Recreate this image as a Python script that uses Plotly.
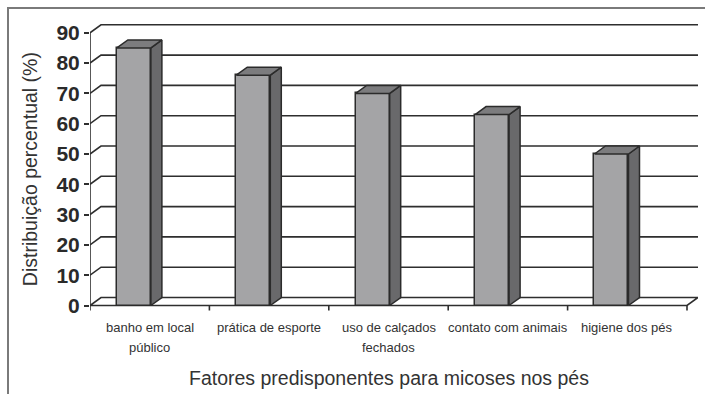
import plotly.graph_objects as go

# ---------------- data ----------------
categories = ["banho em local<br>público", "prática de esporte",
              "uso de calçados<br>fechados", "contato com animais", "higiene dos pés"]
values = [85, 76, 70, 63, 50]
y_ticks = [0, 10, 20, 30, 40, 50, 60, 70, 80, 90]
y_title = "Distribuição percentual (%)"
x_title = "Fatores predisponentes para micoses nos pés"

# ---------------- geometry (pixels) ----------------
W, H = 705, 394
X_LEFT = 90.0        # front y-axis position (px)
X_RIGHT = 698.0      # back-wall right end (px)
PX_CAT = 119.4       # px per category
Y_ZERO = 305.5       # y=0 at front (px)
PX_UNIT = 3.03       # px per percent
DX_PX, DY_PX = 11.0, 8.0   # oblique depth offset
MT, MB = 20, 74

n = len(categories)
x_min = -0.5
x_max = -0.5 + (X_RIGHT - X_LEFT) / PX_CAT
plot_h = H - MT - MB
y_min = -((H - MB) - Y_ZERO) / PX_UNIT
y_max = (Y_ZERO - MT) / PX_UNIT
ddx = DX_PX / PX_CAT
ddy = DY_PX / PX_UNIT
y_top = max(y_ticks)

FRONT = "#a4a4a6"
SIDE = "#69696b"
TOP = "#7c7c7e"
EDGE = "#2b2b2b"
GRID = "#2e2e2e"
TXT = "#333333"

fig = go.Figure()
shapes = []

# gridlines (front axis -> back wall -> right)
right_back = (n - 0.5) + ddx
for t in y_ticks[1:]:
    shapes.append(dict(type="path", layer="below",
                       path=f"M {x_min},{t} L {x_min + ddx},{t + ddy} L {right_back},{t + ddy}",
                       line=dict(color=GRID, width=1.6)))
# floor
shapes.append(dict(type="path", layer="below",
                   path=f"M {x_min},0 L {n - 0.5},0 L {right_back},{ddy} L {x_min + ddx},{ddy} Z",
                   fillcolor="white", line=dict(color=GRID, width=1.6)))
# front vertical axis
shapes.append(dict(type="line", layer="below", x0=x_min, x1=x_min, y0=0, y1=y_top,
                   line=dict(color=GRID, width=1.6)))
# category boundary ticks
tick_len = 5.0 / PX_UNIT
for i in range(n + 1):
    b = i - 0.5
    shapes.append(dict(type="line", layer="above", x0=b, x1=b, y0=0, y1=-tick_len,
                       line=dict(color=GRID, width=1.6)))

# outer border (top + left)
def px_to_paper_x(px):
    return (px - X_LEFT) / (X_RIGHT - X_LEFT)

def py_to_paper_y(py):
    return 1 - (py - MT) / plot_h

bx0, by0 = px_to_paper_x(8), py_to_paper_y(8)
bx1, by1 = px_to_paper_x(706), py_to_paper_y(396)
shapes.append(dict(type="path", xref="paper", yref="paper", layer="above",
                   path=f"M {bx1},{by0} L {bx0},{by0} L {bx0},{by1}",
                   line=dict(color="#7a7a7a", width=2)))

# bars: front faces
OFF, BW = -0.275, 0.285
xs = list(range(n))
fig.add_trace(go.Bar(x=xs, y=values, offset=OFF, width=BW,
                     marker=dict(color=FRONT, line=dict(color=EDGE, width=1.5)),
                     hoverinfo="skip", showlegend=False))
# side and top faces
for i, v in enumerate(values):
    x0 = i + OFF
    x1 = x0 + BW
    fig.add_trace(go.Scatter(
        x=[x1, x1, x1 + ddx, x1 + ddx, x1], y=[0, v, v + ddy, ddy, 0],
        mode="lines", fill="toself", fillcolor=SIDE,
        line=dict(color=EDGE, width=1.5), hoverinfo="skip", showlegend=False))
    fig.add_trace(go.Scatter(
        x=[x0, x1, x1 + ddx, x0 + ddx, x0], y=[v, v, v + ddy, v + ddy, v],
        mode="lines", fill="toself", fillcolor=TOP,
        line=dict(color=EDGE, width=1.5), hoverinfo="skip", showlegend=False))

annotations = []
LINE1, LINE_GAP = 327, 20
for i, c in enumerate(categories):
    for k, part in enumerate(c.split("<br>")):
        annotations.append(dict(x=i, y=0, xref="x", yref="y", text=part, showarrow=False,
                                yanchor="middle", yshift=-(LINE1 + k * LINE_GAP - Y_ZERO),
                                font=dict(family="Liberation Sans, Arial", size=13, color=TXT)))
annotations.append(dict(x=(n - 1) / 2, y=0, xref="x", yref="y", text=x_title, showarrow=False,
                        yanchor="middle", yshift=-(378 - Y_ZERO),
                        font=dict(family="Liberation Sans, Arial", size=19.5, color=TXT)))
annotations.append(dict(x=px_to_paper_x(30), y=y_top / 2, xref="paper", yref="y",
                        text=y_title, showarrow=False, textangle=-90,
                        xanchor="center", yanchor="middle",
                        font=dict(family="Liberation Sans, Arial", size=19.5, color=TXT)))

fig.update_layout(
    width=W, height=H,
    margin=dict(l=X_LEFT, r=W - X_RIGHT, t=MT, b=MB),
    paper_bgcolor="white", plot_bgcolor="white",
    shapes=shapes, annotations=annotations,
    xaxis=dict(range=[x_min, x_max], visible=False, fixedrange=True),
    yaxis=dict(range=[y_min, y_max], tickvals=y_ticks, ticks="outside", ticklen=5,
               tickwidth=1.6, tickcolor=GRID, showgrid=False, zeroline=False,
               showline=False, fixedrange=True,
               tickfont=dict(family="Liberation Sans, Arial", size=21, color="#2a2a2a",
                             weight="bold")),
    bargap=0,
)

fig.write_html("out.html")
